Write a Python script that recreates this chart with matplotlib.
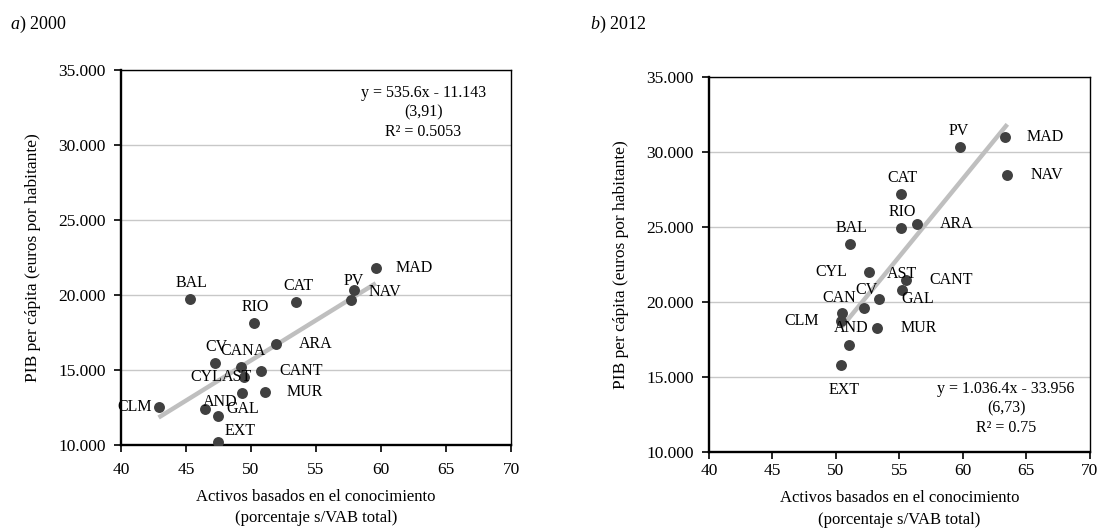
import numpy as np
import matplotlib.pyplot as plt
from matplotlib.ticker import FuncFormatter, MultipleLocator

plt.rcParams['font.family'] = ['Liberation Serif', 'DejaVu Serif']
plt.rcParams['font.size'] = 11
plt.rcParams['mathtext.fontset'] = 'custom'
plt.rcParams['mathtext.rm'] = 'Liberation Serif'
plt.rcParams['mathtext.it'] = 'Liberation Serif:italic'

# ---- data: 2000 ----
reg_2000 = ['BAL', 'CAT', 'RIO', 'ARA', 'CV', 'CANA', 'CANT', 'CYL', 'AST', 'MUR',
            'CLM', 'GAL', 'AND', 'EXT', 'PV', 'NAV', 'MAD']
x_2000 = [45.3, 53.5, 50.2, 51.9, 47.2, 49.2, 50.8, 49.5, 49.3, 51.1,
          42.9, 46.5, 47.5, 47.5, 57.9, 57.7, 59.6]
y_2000 = [19710, 19510, 18150, 16750, 15490, 15220, 14950, 14510, 13450, 13550,
          12530, 12420, 11930, 10180, 20300, 19650, 21800]
fit_2000 = (535.6, -11143)
eq_2000 = ['y = 535.6x - 11.143', '(3,91)', 'R² = 0.5053']

# ---- data: 2012 ----
reg_2012 = ['CAT', 'RIO', 'ARA', 'BAL', 'CYL', 'CANT', 'AST', 'GAL', 'CV', 'CAN',
            'CLM', 'AND', 'MUR', 'EXT', 'PV', 'NAV', 'MAD']
x_2012 = [55.1, 55.1, 56.4, 51.1, 52.6, 55.5, 55.2, 53.4, 52.2, 50.5,
          50.4, 51.0, 53.2, 50.4, 59.8, 63.5, 63.3]
y_2012 = [27220, 24950, 25200, 23890, 21980, 21470, 20780, 20180, 19620, 19250,
          18750, 17130, 18310, 15800, 30350, 28500, 31000]
fit_2012 = (1036.4, -33956)
eq_2012 = ['y = 1.036.4x - 33.956', '(6,73)', 'R² = 0.75']

# label offsets (pixels) for each region's tag
UP, RIGHT, LEFT = (2, 16), (40, 0), (-38, 0)
off_2000 = {'BAL': UP, 'CAT': UP, 'RIO': UP, 'ARA': RIGHT, 'CV': UP, 'CANA': UP,
            'CANT': RIGHT, 'CYL': LEFT, 'AST': (-5, 16), 'MUR': RIGHT, 'CLM': (-24, 0),
            'GAL': (37, 0), 'AND': (2, 14), 'EXT': (22, 11), 'PV': (0, 9),
            'NAV': (34, 8), 'MAD': (38, 0)}
off_2012 = {'CAT': UP, 'RIO': UP, 'ARA': RIGHT, 'BAL': UP, 'CYL': LEFT,
            'CANT': (45, 0), 'AST': (0, 16), 'GAL': (39, 0), 'CV': (3, 18),
            'CAN': (-3, 15), 'CLM': (-39, 0), 'AND': (3, 17), 'MUR': (42, 0),
            'EXT': (3, -25), 'PV': (-2, 16), 'NAV': (40, 0), 'MAD': (40, 0)}


def thousands(v, pos):
    return '{:,.0f}'.format(v).replace(',', '.')


def scatter_panel(ax, regs, xs, ys, fit, eq, offs, eq_xy, xpad):
    xs = np.array(xs)
    ax.set_xlim(40, 70)
    ax.set_ylim(10000, 35000)
    ax.yaxis.set_major_locator(MultipleLocator(5000))
    ax.xaxis.set_major_locator(MultipleLocator(5))
    ax.yaxis.set_major_formatter(FuncFormatter(thousands))
    ax.grid(axis='y', color='#c8c8c8', linewidth=1.0)
    ax.set_axisbelow(True)

    # trend line from the fitted equation, over the data range
    xl = np.array([xs.min(), xs.max()])
    ax.plot(xl, fit[0] * xl + fit[1], color='#bfbfbf', linewidth=3.2, zorder=2,
            solid_capstyle='butt')
    ax.scatter(xs, ys, s=62, color='#404040', zorder=3, linewidths=0)

    for r, x, y in zip(regs, xs, ys):
        ax.annotate(r, (x, y), xytext=offs[r], textcoords='offset pixels',
                    ha='center', va='center', fontsize=11.5, zorder=4)

    ax.text(eq_xy[0], eq_xy[1], '\n'.join(eq), transform=ax.transAxes,
            ha='center', va='top', fontsize=11.5, linespacing=1.3)

    for s in ['left', 'bottom']:
        ax.spines[s].set_linewidth(1.7)
    for s in ['top', 'right']:
        ax.spines[s].set_linewidth(1.0)
    ax.tick_params(direction='out', length=5, width=1.2, labelsize=12.5)
    ax.tick_params(axis='y', pad=6)
    ax.tick_params(axis='x', pad=xpad)
    ax.set_xlabel('Activos basados en el conocimiento\n(porcentaje s/VAB total)',
                  fontsize=12, labelpad=8, linespacing=1.45)
    ax.set_ylabel('PIB per cápita (euros por habitante)', fontsize=12.5, labelpad=12)


fig = plt.figure(figsize=(10.99, 5.32), dpi=100)
ax1 = fig.add_axes([0.110, 0.1635, 0.355, 0.705])
ax2 = fig.add_axes([0.645, 0.150, 0.3467, 0.705])

scatter_panel(ax1, reg_2000, x_2000, y_2000, fit_2000, eq_2000, off_2000, (0.775, 0.96), 7)
scatter_panel(ax2, reg_2012, x_2012, y_2012, fit_2012, eq_2012, off_2012, (0.78, 0.19), 3)

fig.text(0.009, 0.955, r'$\it{a)}$ 2000', fontsize=13, va='center')
fig.text(0.537, 0.955, r'$\it{b)}$ 2012', fontsize=13, va='center')

fig.savefig('out.png', dpi=100)
